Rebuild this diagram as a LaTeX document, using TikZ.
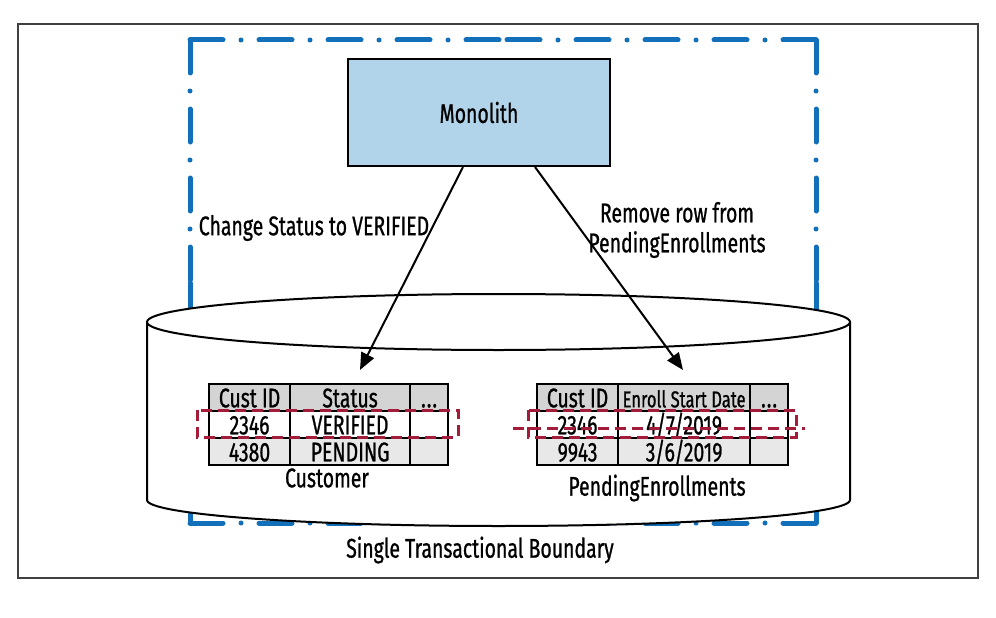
\documentclass[tikz,border=0pt]{standalone}
\usepackage{fontspec}
\setmainfont{Fira Sans}[FakeStretch=0.72,FakeBold=0.8]
\usetikzlibrary{arrows.meta}
\definecolor{bblue}{RGB}{18,112,186}
\definecolor{mono}{RGB}{178,212,234}
\definecolor{dred}{RGB}{165,28,58}
\definecolor{hdr}{RGB}{212,212,212}
\definecolor{lgr}{RGB}{232,232,232}
\begin{document}
\begin{tikzpicture}[x=1pt,y=-1pt,
  bound/.style={bblue,line width=5pt,line cap=round,dash pattern=on 33pt off 18pt on 0pt off 18pt},
  cell/.style={draw,line width=2.2pt,inner sep=0pt,anchor=north west,minimum height=27pt,text height=21pt,text depth=1.5pt,font=\fontsize{27}{30}\selectfont},
  lbl/.style={font=\fontsize{27}{30}\selectfont,align=center,inner sep=0pt},
  arr/.style={line width=2pt,-{Triangle[length=17pt,width=14pt]}},
  reddash/.style={dred,line width=3pt,dash pattern=on 11pt off 6pt}]
\useasboundingbox (0,0) rectangle (996,618);
\fill[white] (0,0) rectangle (996,618);
% outer frame
\draw[line width=1.5pt,black!75] (18,24) rectangle (978,578);
% transactional boundary
\draw[bound] (190,40) -- (503,40);
\draw[bound] (816,40) -- (503,40);
\draw[bound] (816,40) -- (816,282);
\draw[bound] (816,523) -- (816,282);
\draw[bound] (816,523) -- (503,523);
\draw[bound] (190,523) -- (503,523);
\draw[bound] (190,523) -- (190,282);
\draw[bound] (190,40) -- (190,282);
% monolith
\node[draw,line width=2pt,fill=mono,minimum width=262pt,minimum height=107pt,font=\fontsize{27}{30}\selectfont] (mono) at (479,112.5) {Monolith};
% database cylinder
\draw[line width=2pt,fill=white] (147,322) -- (147,500) arc[start angle=180,end angle=0,x radius=351.5,y radius=26] -- (850,322);
\draw[line width=2pt,fill=white] (498.5,322) ellipse[x radius=351.5,y radius=28];
% Customer table
\node[cell,fill=hdr,minimum width=81pt] (ch1) at (208,383) {Cust ID};
\node[cell,fill=hdr,minimum width=120pt] (ch2) at (289,383) {Status};
\node[cell,fill=hdr,minimum width=38pt] (ch3) at (409,383) {.\kern1pt.\kern1pt.};
\node[cell,fill=white,minimum width=81pt] (ca1) at (208,410) {2346};
\node[cell,fill=white,minimum width=120pt] (ca2) at (289,410) {VERIFIED};
\node[cell,fill=white,minimum width=38pt] (ca3) at (409,410) {};
\node[cell,fill=lgr,minimum width=81pt] (cb1) at (208,437) {4380};
\node[cell,fill=lgr,minimum width=120pt] (cb2) at (289,437) {PENDING};
\node[cell,fill=lgr,minimum width=38pt] (cb3) at (409,437) {};
\node[lbl] (custlbl) at (327,478) {Customer};
% PendingEnrollments table
\node[cell,fill=hdr,minimum width=81pt] (ph1) at (536,383) {Cust ID};
\node[cell,fill=hdr,minimum width=132pt,font=\fontsize{23}{26}\selectfont] (ph2) at (617,383) {Enroll Start Date};
\node[cell,fill=hdr,minimum width=38pt] (ph3) at (749,383) {.\kern1pt.\kern1pt.};
\node[cell,fill=white,minimum width=81pt] (pa1) at (536,410) {2346};
\node[cell,fill=white,minimum width=132pt] (pa2) at (617,410) {4/7/2019};
\node[cell,fill=white,minimum width=38pt] (pa3) at (749,410) {};
\node[cell,fill=lgr,minimum width=81pt] (pb1) at (536,437) {9943};
\node[cell,fill=lgr,minimum width=132pt] (pb2) at (617,437) {3/6/2019};
\node[cell,fill=lgr,minimum width=38pt] (pb3) at (749,437) {};
\node[lbl] (pelbl) at (657,488) {PendingEnrollments};
% highlighted rows
\draw[reddash] (197,410) rectangle (458,437);
\draw[reddash] (528,410) rectangle (796,437);
\draw[reddash] (513,428) -- (805,428);
% arrows
\coordinate (t1) at (360,370);
\coordinate (t2) at (683,370);
\draw[arr] ([xshift=-16pt]mono.south) -- (t1);
\draw[arr] ([xshift=56pt]mono.south) -- (t2);
\node[lbl] (l1) at (314,228) {Change Status to VERIFIED};
\node[lbl] (l2) at (677,230) {Remove row from\\PendingEnrollments};
\node[lbl] (l3) at (480,550) {Single Transactional Boundary};
\end{tikzpicture}
\end{document}
